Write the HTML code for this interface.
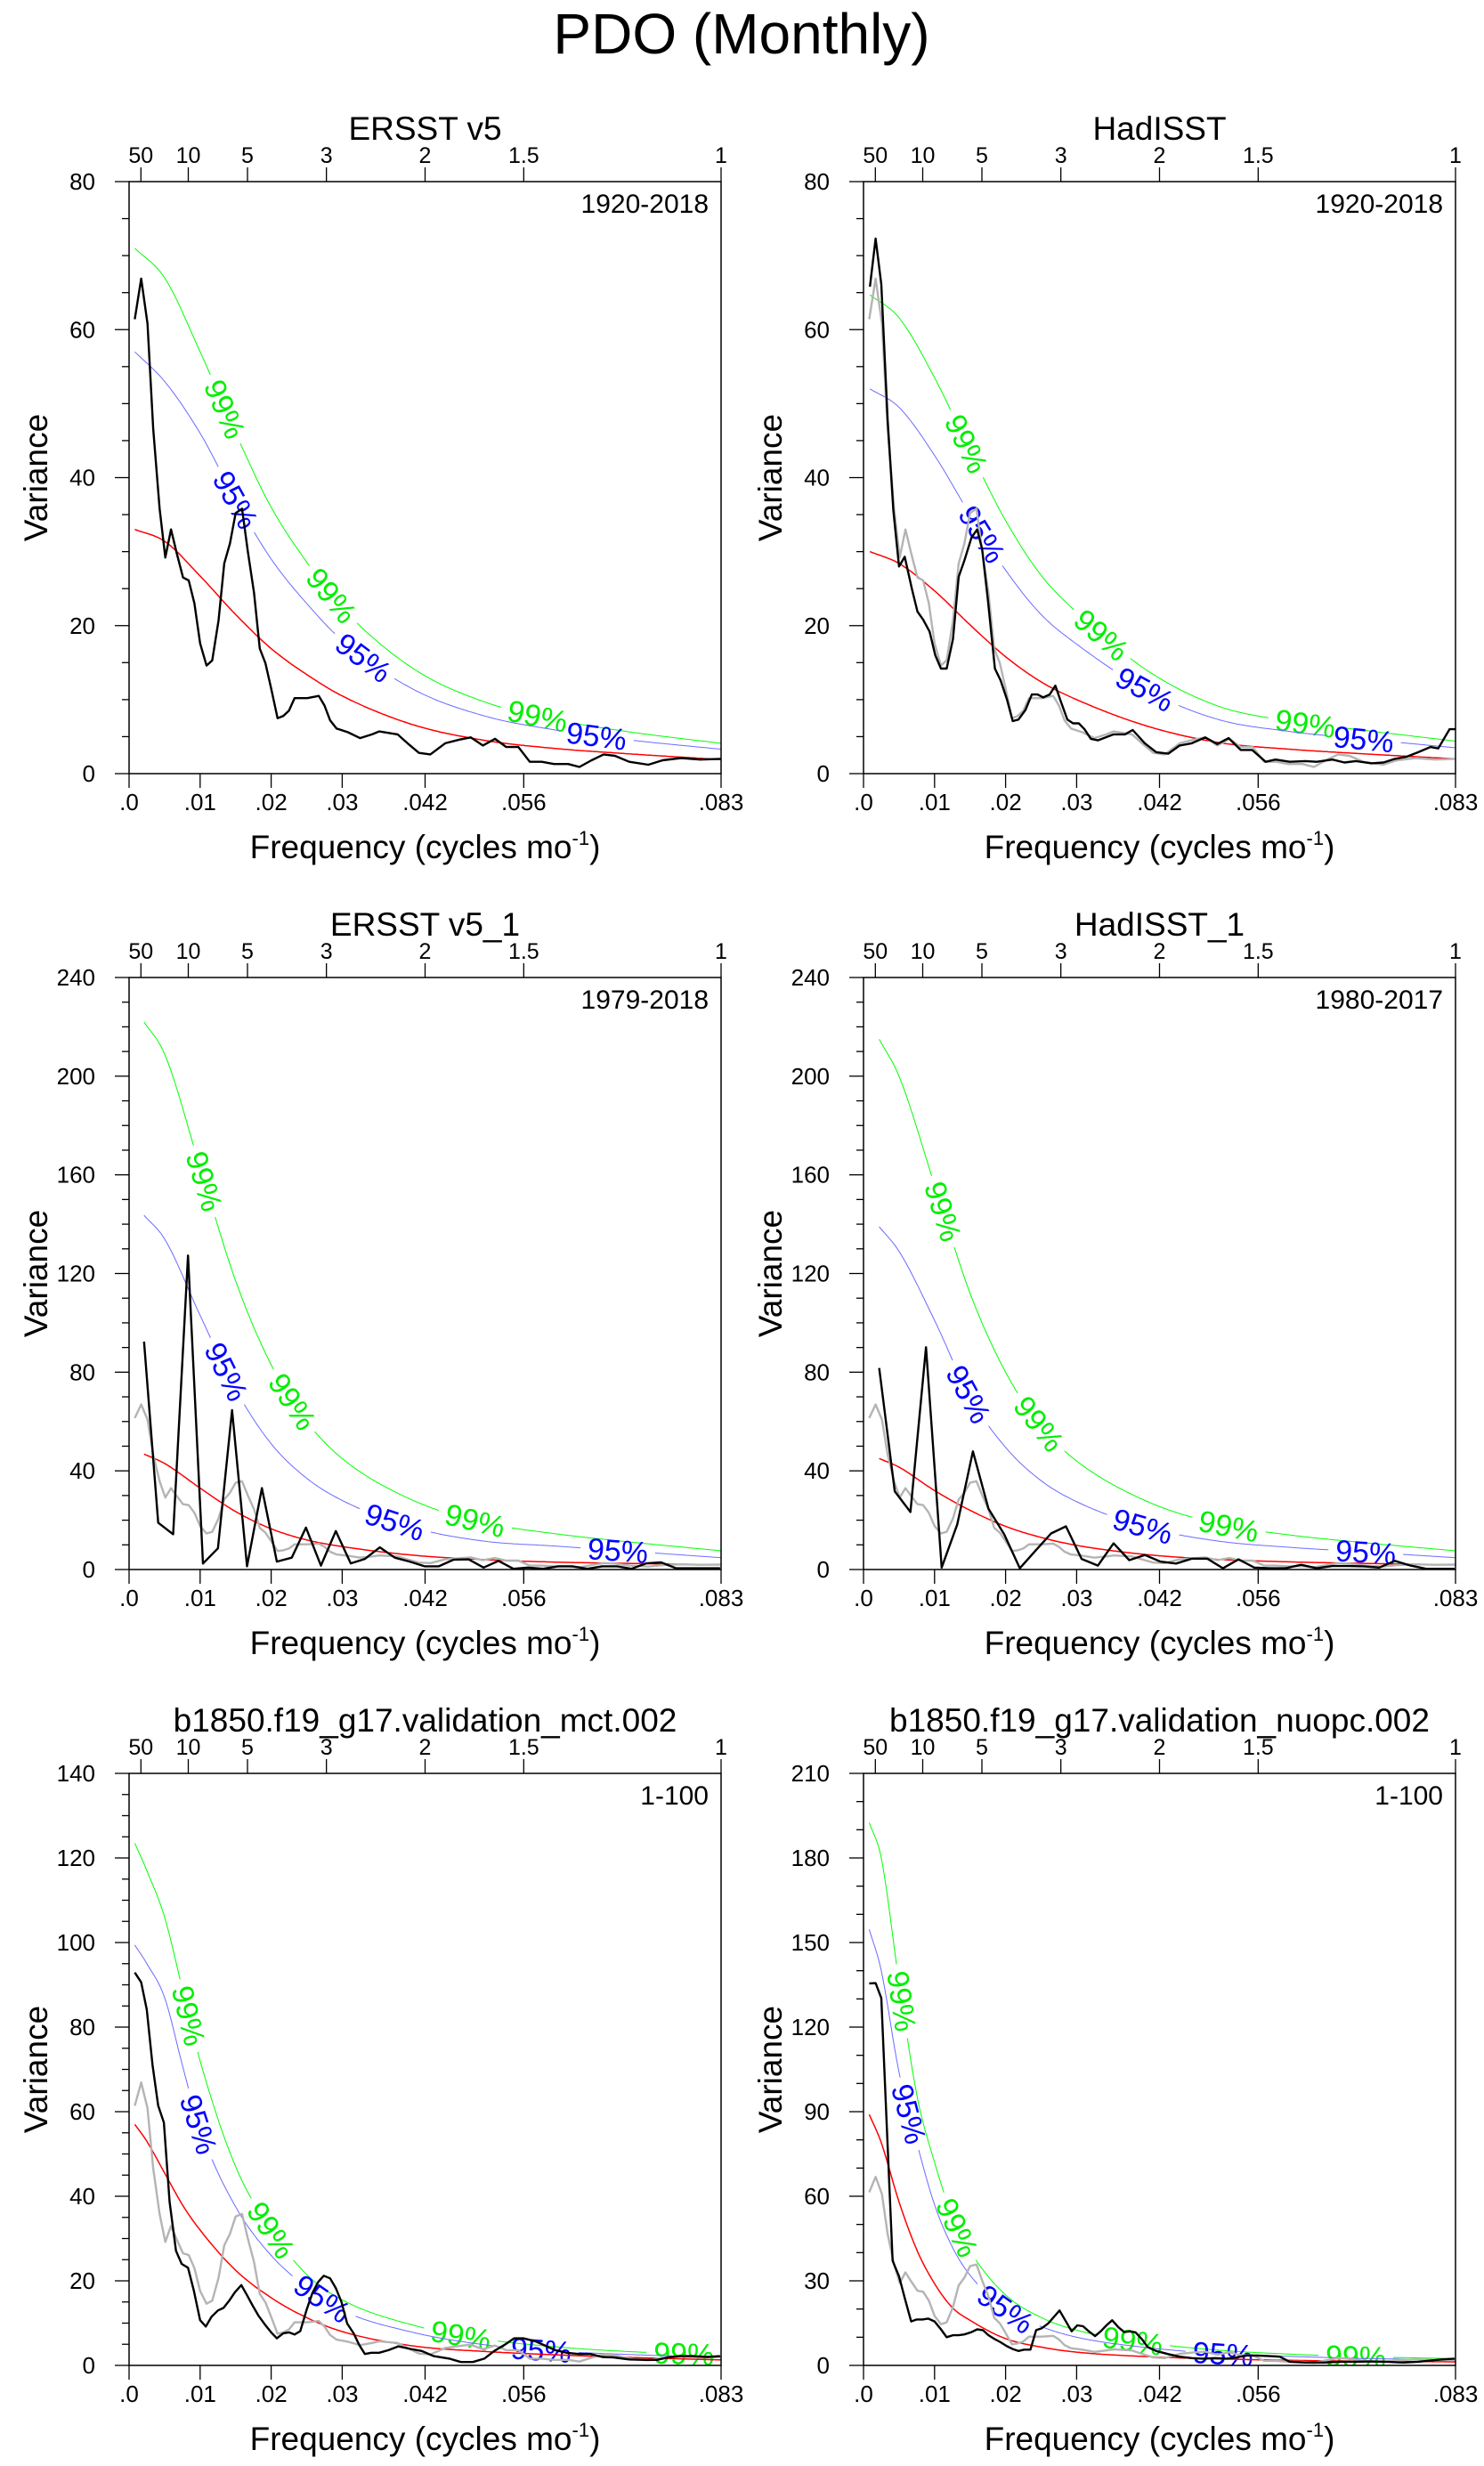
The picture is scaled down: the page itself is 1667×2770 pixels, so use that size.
<!DOCTYPE html>
<html><head><meta charset="utf-8"><title>PDO (Monthly)</title>
<style>
html,body{margin:0;padding:0;background:#fff;}
svg{display:block;font-family:"Liberation Sans",Arial,sans-serif;}
</style></head>
<body>
<svg id="fig" width="1667" height="2770" viewBox="0 0 1667 2770" xmlns="http://www.w3.org/2000/svg">
<rect x="0" y="0" width="1667" height="2770" fill="#fff"/>
<text x="833" y="60" font-size="64" text-anchor="middle" fill="#000">PDO (Monthly)</text>
</svg>
<script>
// ---------- Observed spectra ----------
const p1Freq=[.0008,.0017,.0026,.0034,.0043,.0051,.0059,.0067,.0076,.0084,
.0092,.0100,.0109,.0117,.0126,.0134,.0142,.0150,.0159,.0167,
.0176,.0184,.0192,.0200,.0209,.0217,.0225,.0233,.0251,.0267,
.0275,.0283,.0292,.0308,.0325,.0342,.0352,.0378,.0392,.0408,
.0424,.0445,.0465,.0481,.0498,.0515,.0531,.0548,.0564,.0581,
.0598,.0618,.0634,.0651,.0668,.0684,.0704,.0731,.0751,.0777,
.0804,.0833];
const p1Var=[61.4,66.9,60.8,46.6,35.8,29.2,33.0,29.8,26.5,26.1,
23.0,17.6,14.6,15.3,20.7,28.4,31.1,35.2,35.8,30.1,
24.4,16.9,14.9,11.5,7.5,7.8,8.5,10.2,10.2,10.5,
9.2,7.2,6.1,5.6,4.8,5.3,5.7,5.3,4.1,2.8,
2.6,4.1,4.6,4.9,3.8,4.7,3.6,3.6,1.6,1.6,
1.3,1.3,0.9,1.8,2.6,2.4,1.6,1.2,1.8,2.1,
1.9,2.0];
const p2Freq=[.0009,.0017,.0025,.0034,.0042,.0050,.0058,.0068,.0076,.0084,
.0093,.0101,.0109,.0117,.0126,.0134,.0142,.0152,.0160,.0167,
.0175,.0185,.0193,.0202,.0210,.0218,.0228,.0237,.0245,.0253,
.0262,.0270,.0278,.0287,.0295,.0303,.0311,.0320,.0330,.0341,
.0352,.0368,.0379,.0396,.0412,.0429,.0445,.0462,.0481,.0498,
.0514,.0531,.0547,.0566,.0580,.0600,.0622,.0638,.0660,.0677,
.0693,.0715,.0732,.0748,.0765,.0781,.0798,.0809,.0825,.0833];
const p2Var=[65.8,72.3,66.1,47.8,35.6,28,29.3,25,21.9,20.8,
19.2,16,14.2,14.2,18.2,26.6,28.8,31.9,33,30.3,
23.5,14.2,12.6,10,7.1,7.3,8.6,10.7,10.7,10.3,
10.7,11.9,9.7,7.3,6.8,6.8,6.0,4.7,4.5,4.9,
5.3,5.3,5.9,4.1,2.9,2.7,3.8,4.1,4.9,4.0,
4.8,3.2,3.2,1.6,1.9,1.6,1.7,1.6,1.9,1.5,
1.7,1.4,1.5,2.0,2.3,2.9,3.6,3.4,6.0,6.0];
const p3Freq=[.0021,.0041,.0062,.0083,.0104,.0125,.0145,.0166,.0187,.0208,
.0229,.0249,.0270,.0291,.0312,.0332,.0353,.0374,.0395,.0416,
.0436,.0457,.0478,.0499,.0520,.0541,.0561,.0583,.0604,.0624,
.0645,.0666,.0687,.0707,.0728,.0749,.0770,.0791,.0812,.0832];
const p3Var=[92.4,19,14.3,127.3,2.4,8.6,64.6,1.3,33,3.2,
4.8,17,1.6,15.6,2.5,4.3,9.0,4.8,3.2,1.3,
1.3,4.0,4.1,0.8,3.5,0.3,0.8,0.3,1.3,1.3,
0.3,1.3,1.3,0.3,2.5,2.9,0.5,0.5,0.5,0.5];
const p4Freq=[.0022,.0044,.0066,.0088,.0110,.0132,.0154,.0176,.0198,.0220,
.0242,.0264,.0285,.0307,.0330,.0352,.0374,.0396,.0418,.0440,
.0462,.0484,.0506,.0528,.0550,.0572,.0594,.0616,.0638,.0660,
.0682,.0704,.0726,.0748,.0770,.0792,.0814,.0832];
const p4Var=[81.7,31.7,23.3,90.1,0.8,18.3,47.9,24.6,14.3,0.5,
7.6,14.6,17.5,4.3,1.6,10.6,3.8,5.9,3.2,2.4,
4.4,4.4,0.5,4.1,0.8,0.5,0.5,1.9,0.5,1.4,
1.4,1.3,0.8,3.5,1.6,0.3,0.3,0.3];
const p5Freq=[.0008,.0017,.0025,.0033,.0041,.0049,.0057,.0066,.0074,.0083,
.0091,.0100,.0108,.0116,.0125,.0133,.0141,.0149,.0158,.0166,
.0174,.0182,.0192,.0200,.0208,.0217,.0225,.0233,.0241,.0250,
.0258,.0266,.0274,.0283,.0291,.0299,.0307,.0316,.0324,.0332,
.0341,.0352,.0365,.0379,.0396,.0412,.0429,.0451,.0467,.0484,
.0500,.0514,.0528,.0542,.0555,.0572,.0588,.0600,.0616,.0633,
.0649,.0666,.0682,.0704,.0726,.0743,.0759,.0776,.0792,.0814,
.0832];
const p5Var=[92.9,90.6,84.1,71.1,61.4,57.4,38.7,27.1,24,23.1,
17.8,10.7,9.2,11.5,13,13.6,15.3,17.3,19,16.6,
14.1,11.8,9.5,7.8,6.4,7.6,7.8,7.3,8.1,13.2,
17.1,19.7,21.2,20.6,18.3,15,9.9,7.6,4.8,2.7,
3.0,3.0,3.6,4.5,3.9,3.4,2.2,1.6,0.8,0.8,
1.6,3.4,4.8,6.4,6.4,5.7,4.5,3.6,3.0,2.7,
2.7,2.0,1.9,1.4,1.3,1.3,1.9,2.2,2.2,2.0,
2.2];
const p6Freq=[.0008,.0017,.0025,.0033,.0041,.0050,.0058,.0067,.0075,.0083,
.0091,.0100,.0109,.0117,.0126,.0134,.0142,.0152,.0160,.0168,
.0176,.0185,.0193,.0202,.0210,.0218,.0226,.0235,.0243,.0251,
.0260,.0268,.0276,.0284,.0293,.0301,.0309,.0317,.0326,.0334,
.0342,.0350,.0359,.0367,.0375,.0383,.0392,.0400,.0412,.0429,
.0445,.0462,.0478,.0495,.0511,.0525,.0539,.0555,.0572,.0586,
.0600,.0622,.0649,.0671,.0693,.0715,.0737,.0759,.0781,.0798,
.0814,.0832];
const p6Var=[135.5,135.6,130.3,83.7,37.1,31.6,23.9,15.6,16.3,16.3,
16.6,15.6,12.8,10,10.7,10.7,11,11.8,12.8,12.5,
10.7,9.3,8.2,6.8,5.8,5.1,5.6,5.6,12.5,13.2,
14.9,17.2,19.5,16,12.1,14.2,13.9,12.1,10.4,12.1,
14.2,16,13.5,11.8,12.1,11.7,9.3,6.5,5.1,4.0,
3.1,2.6,2.4,2.6,2.4,2.8,3.5,3.5,3.3,3.1,
1.3,1.0,1.0,1.3,1.3,1.4,1.3,1.0,1.3,1.7,
2.1,2.4];

// ---------- Theoretical red-noise spectra and confidence levels ----------
const p1ThFreq=[.0008,.005,.01,.015,.02,.025,.03,.04,.05,.06,.07,.0833];
const p1Red=[33,31.4,26.7,21.5,16.9,13.4,10.5,6.6,4.5,3.4,2.7,1.9];
const p1C95=[57,53,46,37,29,23,18,11.4,7.8,5.9,4.6,3.3];
const p1C99=[71,67,57,46,36,28.6,22.4,14.2,9.7,7.3,5.7,4.1];
const p2ThFreq=[.0009,.005,.01,.015,.02,.025,.03,.04,.05,.06,.07,.0833];
const p2Red=[30,28.4,24.7,20.1,15.8,12.4,10,6.4,4.2,3.3,2.7,2.0];
const p2C95=[52,49.5,43,35,27.5,21.5,17.5,11.2,7.3,5.7,4.7,3.5];
const p2C99=[64.7,61.6,53.5,43.6,34.2,26.8,21.8,13.9,9.1,7.1,5.9,4.4];
const p3ThFreq=[.0021,.005,.01,.015,.02,.025,.03,.04,.05,.06,.07,.0833];
const p3Red=[46.8,43,33,23.5,16.5,12,9.3,5.8,4.0,3.0,2.5,1.9];
const p3C95=[143.6,134,103,73,51,37,28,17,11.5,9.5,7.5,4.8];
const p3C99=[222,209,163,117,83,60,45,28,19,14.5,11.3,7.6];
const p4ThFreq=[.0022,.005,.01,.015,.02,.025,.03,.04,.05,.06,.07,.0833];
const p4Red=[45,41.5,32,24,17.5,13,9.8,6,4.1,3.1,2.5,1.9];
const p4C95=[139,129,101,70,49.5,36,27.5,17,11.5,9,7.2,4.8];
const p4C99=[215,200,156,112,80,58,44,27.5,18.5,14,11,7.6];
const p5ThFreq=[.0008,.0025,.005,.0075,.01,.015,.02,.025,.03,.04,.05,.06,.07,.0833];
const p5Red=[57,53,45.5,38,32,22.5,16,11.3,8,4.6,3.3,2.5,1.9,1.3];
const p5C95=[99.4,95,87,71,56,37.5,26,18.5,13,7.8,4.9,3.4,2.6,1.9];
const p5C99=[123.5,117,106,89,72,47,32,21.5,15.5,9.5,6.2,4.4,3.3,2.5];
const p6ThFreq=[.0008,.0025,.005,.0075,.01,.0125,.015,.02,.025,.03,.04,.05,.06,.07,.0833];
const p6Red=[89,79,58,41,29,20.5,16,9.5,6.5,4.7,3.1,2.3,1.8,1.5,1.25];
const p6C95=[154.7,140,104,79,57,42,32,20,13.8,10,6.3,4.2,3.2,2.5,1.9];
const p6C99=[192.5,180,136,96,72,53,40.5,25,17,12.5,8,5.4,4,3.1,2.4];

// label positions along the confidence curves (frequency)
const p1Lab99=[.0135,.0285,.0575], p1Lab95=[.0150,.033,.0658];
const p2Lab99=[.0145,.0335,.0622], p2Lab95=[.0167,.0396,.0704];
const p3Lab99=[.0106,.023,.0487], p3Lab95=[.0137,.0374,.0688];
const p4Lab99=[.0112,.0247,.0514], p4Lab95=[.0148,.0393,.0707];
const p5Lab99=[.0084,.020,.0467,.0781], p5Lab95=[.0098,.0272,.058];
const p6Lab99=[.0054,.0132,.0379,.0693], p6Lab95=[.0064,.020,.0506];

// axis ticks
const xTickFreq=[0,.01,.02,.03,1/24,1/18,1/12];
const xTickLabels=[".0",".01",".02",".03",".042",".056",".083"];
const topPeriods=[50,10,5,3,2,1.5,1];
const topLabels=["50","10","5","3","2","1.5","1"];

const NS="http://www.w3.org/2000/svg";
const svg=document.getElementById('fig');
const FMAX=1/12;
function mk(tag,attrs,parent){const e=document.createElementNS(NS,tag);for(const k in attrs)e.setAttribute(k,attrs[k]);(parent||svg).appendChild(e);return e;}

function monotone(xs,ys){
  const n=xs.length,d=[],m=new Array(n);
  for(let i=0;i<n-1;i++)d.push((ys[i+1]-ys[i])/(xs[i+1]-xs[i]));
  m[0]=d[0];m[n-1]=d[n-2];
  for(let i=1;i<n-1;i++){m[i]=(d[i-1]*d[i]<=0)?0:(d[i-1]+d[i])/2;}
  for(let i=0;i<n-1;i++){
    if(d[i]===0){m[i]=0;m[i+1]=0;continue;}
    const a=m[i]/d[i],b=m[i+1]/d[i],s=a*a+b*b;
    if(s>9){const t=3/Math.sqrt(s);m[i]=t*a*d[i];m[i+1]=t*b*d[i];}
  }
  return function(x){
    let i=0;while(i<n-2&&x>xs[i+1])i++;
    const h=xs[i+1]-xs[i],t=Math.max(0,Math.min(1,(x-xs[i])/h));
    const t2=t*t,t3=t2*t;
    return (2*t3-3*t2+1)*ys[i]+(t3-2*t2+t)*h*m[i]+(-2*t3+3*t2)*ys[i+1]+(t3-t2)*h*m[i+1];
  };
}

const panels=[
 {key:'p1',title:'ERSST v5',period:'1920-2018',x0:145,y0:204,ymax:80,major:20,minor:5,freq:p1Freq,val:p1Var,gray:false,th:p1ThFreq,red:p1Red,c95:p1C95,c99:p1C99,l99:p1Lab99,l95:p1Lab95},
 {key:'p2',title:'HadISST',period:'1920-2018',x0:970,y0:204,ymax:80,major:20,minor:5,freq:p2Freq,val:p2Var,gray:true,th:p2ThFreq,red:p2Red,c95:p2C95,c99:p2C99,l99:p2Lab99,l95:p2Lab95},
 {key:'p3',title:'ERSST v5_1',period:'1979-2018',x0:145,y0:1098,ymax:240,major:40,minor:10,freq:p3Freq,val:p3Var,gray:true,th:p3ThFreq,red:p3Red,c95:p3C95,c99:p3C99,l99:p3Lab99,l95:p3Lab95},
 {key:'p4',title:'HadISST_1',period:'1980-2017',x0:970,y0:1098,ymax:240,major:40,minor:10,freq:p4Freq,val:p4Var,gray:true,th:p4ThFreq,red:p4Red,c95:p4C95,c99:p4C99,l99:p4Lab99,l95:p4Lab95},
 {key:'p5',title:'b1850.f19_g17.validation_mct.002',period:'1-100',x0:145,y0:1992,ymax:140,major:20,minor:5,freq:p5Freq,val:p5Var,gray:true,th:p5ThFreq,red:p5Red,c95:p5C95,c99:p5C99,l99:p5Lab99,l95:p5Lab95},
 {key:'p6',title:'b1850.f19_g17.validation_nuopc.002',period:'1-100',x0:970,y0:1992,ymax:210,major:30,minor:10,freq:p6Freq,val:p6Var,gray:true,th:p6ThFreq,red:p6Red,c95:p6C95,c99:p6C99,l99:p6Lab99,l95:p6Lab95}
];
const W=665,H=665;
const defs=mk('defs',{});

panels.forEach(p=>{
  const X=f=>p.x0+f/FMAX*W;
  const Y=v=>p.y0+H-v/p.ymax*H;
  const g=mk('g',{});
  
  
  const cx=p.x0+W/2, cy=p.y0+H/2;
  const t=mk('text',{x:cx,y:p.y0-47,'font-size':37,'text-anchor':'middle'},g);t.textContent=p.title;
  
  
  const pl=mk('text',{x:p.x0+W-14,y:p.y0+35,'font-size':30,'text-anchor':'end'},g);pl.textContent=p.period;
  
  
  const ya=mk('g',{stroke:'#000','stroke-width':1.3},g);
  
  
  for(let v=0;v<=p.ymax+1e-9;v+=p.minor){
    const isMaj=Math.abs(v/p.major-Math.round(v/p.major))<1e-6;
    mk('line',{x1:p.x0-(isMaj?16:8),x2:p.x0,y1:Y(v),y2:Y(v)},ya);
    if(isMaj){
      const tl=mk('text',{x:p.x0-38,y:Y(v)+9,'font-size':26,'text-anchor':'end',stroke:'none'},ya);tl.textContent=String(Math.round(v));
      
      
    }
  }
  const xa=mk('g',{stroke:'#000','stroke-width':1.3},g);
  
  
  xTickFreq.forEach((f,i)=>{
    mk('line',{x1:X(f),x2:X(f),y1:p.y0+H,y2:p.y0+H+16},xa);
    const tl=mk('text',{x:X(f),y:p.y0+H+41,'font-size':26,'text-anchor':'middle',stroke:'none'},xa);tl.textContent=xTickLabels[i];
    
    
  });
  const ta=mk('g',{stroke:'#000','stroke-width':1.3},g);
  
  
  topPeriods.forEach((per,i)=>{
    const f=1/(12*per);
    mk('line',{x1:X(f),x2:X(f),y1:p.y0,y2:p.y0-16},ta);
    const tl=mk('text',{x:X(f),y:p.y0-21,'font-size':25,'text-anchor':'middle',stroke:'none'},ta);tl.textContent=topLabels[i];
    
    
  });
  const xt=mk('text',{x:cx,y:p.y0+H+95,'font-size':37,'text-anchor':'middle'},g);
  xt.innerHTML='Frequency (cycles mo<tspan font-size="22" dy="-15">-1</tspan><tspan dy="15">)</tspan>';
  
  
  const yt=mk('text',{x:p.x0-92,y:cy,'font-size':37,'text-anchor':'middle',transform:`rotate(-90 ${p.x0-92} ${cy})`},g);yt.textContent='Variance';
  
  

  const cp=mk('clipPath',{id:p.key+'-clip'},defs);
  mk('rect',{x:p.x0,y:p.y0,width:W,height:H},cp);
  const plot=mk('g',{'clip-path':`url(#${p.key}-clip)`},g);
  
  

  function curvePts(arr){
    const fn=monotone(p.th,arr),pts=[],f0=p.th[0],f1=p.th[p.th.length-1];
    for(let i=0;i<=300;i++){const f=f0+(f1-f0)*i/300;pts.push([X(f),Y(fn(f))]);}
    return {fn,pts};
  }
  function drawCurve(arr,color,width,name,labels,labColor,labText){
    const c=curvePts(arr);
    let maskAttr='';
    const labs=[];
    if(labels){
      const m=mk('mask',{id:p.key+name+'-mask',maskUnits:'userSpaceOnUse',x:0,y:0,width:1667,height:2770},defs);
      mk('rect',{x:0,y:0,width:1667,height:2770,fill:'#fff'},m);
      labels.forEach(f=>{
        const x1=X(f-0.0004),y1=Y(c.fn(f-0.0004)),x2=X(f+0.0004),y2=Y(c.fn(f+0.0004));
        const ang=Math.atan2(y2-y1,x2-x1)*180/Math.PI;
        const lx=X(f),ly=Y(c.fn(f));
        mk('rect',{x:lx-42,y:ly-18,width:84,height:36,fill:'#000',transform:`rotate(${ang} ${lx} ${ly})`},m);
        labs.push([lx,ly,ang]);
      });
      maskAttr=`url(#${p.key+name}-mask)`;
    }
    const d='M'+c.pts.map(q=>q[0].toFixed(1)+','+q[1].toFixed(1)).join('L');
    const path=mk('path',{d:d,fill:'none',stroke:color,'stroke-width':width},plot);
    if(maskAttr)path.setAttribute('mask',maskAttr);
    
    
    labs.forEach(L=>{
      const tx=mk('text',{x:L[0],y:L[1]+12,'font-size':34,'text-anchor':'middle',fill:labColor,transform:`rotate(${L[2]} ${L[0]} ${L[1]})`},plot);
      tx.textContent=labText;
      
      
    });
  }
  drawCurve(p.c99,'#00ff00',1,'conf99',p.l99,'#00ee00','99%');
  drawCurve(p.c95,'#6a6aff',1,'conf95',p.l95,'#0000ff','95%');
  drawCurve(p.red,'#ff0000',1.5,'red-noise',null);

  function line(fr,vals,color,w,name){
    const n=Math.min(fr.length,vals.length);
    let d='';
    for(let i=0;i<n;i++)d+=(i?'L':'M')+X(fr[i]).toFixed(1)+','+Y(vals[i]).toFixed(1);
    const pa=mk('path',{d:d,fill:'none',stroke:color,'stroke-width':w,'stroke-linejoin':'round'},plot);
    
    
  }
  if(p.gray)line(p1Freq,p1Var,'#b4b4b4',2.4,p.key+'-ersst-reference-line');
  line(p.freq,p.val,'#000',2.4,p.key+'-spectrum-line');

  const fr=mk('rect',{x:p.x0,y:p.y0,width:W,height:H,fill:'none',stroke:'#000','stroke-width':1.5},g);
  
  
});
</script>
</body></html>
